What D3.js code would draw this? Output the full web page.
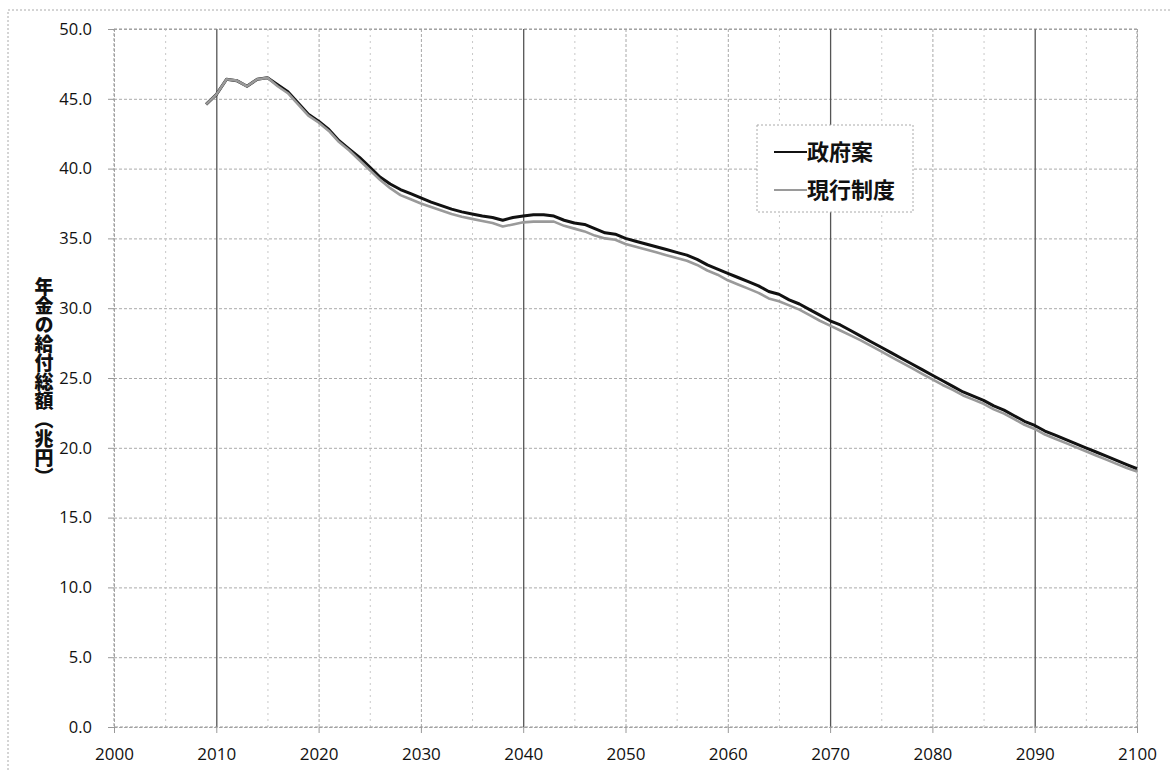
<!DOCTYPE html>
<html><head>
<meta charset="utf-8">
<title>年金の給付総額</title>
<script src="https://d3js.org/d3.v7.min.js"></script>
<style>
  body { margin: 0; background: #fff; }
  .tick-label { font-family: "Open Sans", "DejaVu Sans", sans-serif; fill: #111; }
  .jp { font-family: "Noto Sans CJK JP", sans-serif; fill: #111; }
</style>
</head>
<body>
<svg id="chart" width="1172" height="770"></svg>
<script>
  // --- data (兆円, yearly 2009-2100)
  const years = d3.range(2009, 2101);

  const govPlan = [
    44.6, 45.3, 46.4, 46.3, 45.9, 46.4, 46.5, 46.0, 45.5, 44.7,   // 2009-2018
    43.9, 43.4, 42.8, 42.0, 41.4, 40.8, 40.1, 39.4, 38.9, 38.5,   // 2019-2028
    38.2, 37.9, 37.6, 37.35, 37.1, 36.9, 36.75, 36.6, 36.5, 36.3, // 2029-2038
    36.5, 36.6, 36.7, 36.7, 36.6, 36.3, 36.1, 36.0, 35.7, 35.4,   // 2039-2048
    35.3, 35.0, 34.8, 34.6, 34.4, 34.2, 34.0, 33.8, 33.5, 33.1,   // 2049-2058
    32.8, 32.5, 32.2, 31.9, 31.6, 31.2, 31.0, 30.6, 30.3, 29.9,   // 2059-2068
    29.5, 29.1, 28.8, 28.4, 28.0, 27.6, 27.2, 26.8, 26.4, 26.0,   // 2069-2078
    25.6, 25.2, 24.8, 24.4, 24.0, 23.7, 23.4, 23.0, 22.7, 22.3,   // 2079-2088
    21.9, 21.6, 21.2, 20.9, 20.6, 20.3, 20.0, 19.7, 19.4, 19.1,   // 2089-2098
    18.8, 18.5                                                    // 2099-2100
  ];

  const currentSystem = [
    44.6, 45.3, 46.4, 46.3, 45.9, 46.4, 46.5, 45.9, 45.4, 44.6,
    43.8, 43.3, 42.7, 41.9, 41.3, 40.6, 39.9, 39.2, 38.6, 38.1,
    37.8, 37.5, 37.25, 37.0, 36.75, 36.55, 36.4, 36.25, 36.1, 35.85,
    36.0, 36.15, 36.2, 36.2, 36.2, 35.9, 35.7, 35.5, 35.2, 35.0,
    34.9, 34.6, 34.4, 34.2, 34.0, 33.8, 33.6, 33.4, 33.1, 32.7,
    32.4, 32.0, 31.7, 31.4, 31.1, 30.7, 30.5, 30.2, 29.9, 29.5,
    29.1, 28.75, 28.4, 28.05, 27.7, 27.3, 26.9, 26.5, 26.1, 25.7,
    25.3, 24.9, 24.5, 24.15, 23.75, 23.45, 23.15, 22.75, 22.45, 22.05,
    21.65, 21.35, 20.95, 20.65, 20.35, 20.05, 19.75, 19.45, 19.15, 18.85,
    18.55, 18.3
  ];

  const seriesNames = ['政府案', '現行制度'];
  const xTicks = d3.range(2000, 2101, 10);
  const xMinor = d3.range(2005, 2100, 10);
  const yTicks = d3.range(0, 50.1, 5);
  const yTitle = '年金の給付総額（兆円）';

  // --- layout
  const svg = d3.select('svg#chart');
  const plot = {left: 114, right: 1137, top: 29, bottom: 727};

  const xScale = d3.scaleLinear().domain([2000, 2100]).range([plot.left, plot.right]);
  const yScale = d3.scaleLinear().domain([0, 50]).range([plot.bottom, plot.top]);

  // outer chart frame (dotted, runs off the page on right/bottom)
  svg.append('rect')
     .attr('x', 8).attr('y', 10)
     .attr('width', 1200).attr('height', 800)
     .attr('fill', 'none')
     .attr('stroke', '#aaa')
     .attr('stroke-dasharray', '2,2');

  // horizontal gridlines
  let leftGrid = d3.axisLeft(yScale).tickValues(yTicks)
                   .tickSize(-(plot.right - plot.left)).tickFormat('');
  svg.append('g')
     .attr('class', 'grid')
     .attr('transform', `translate(${plot.left},0)`)
     .call(leftGrid)
     .call(g => g.select('.domain').remove())
     .call(g => g.selectAll('line').attr('stroke', '#aaa').attr('stroke-dasharray', '3,2'));

  // minor vertical gridlines
  svg.append('g')
     .attr('transform', `translate(0,${plot.bottom})`)
     .call(d3.axisBottom(xScale).tickValues(xMinor).tickSize(-(plot.bottom - plot.top)).tickFormat(''))
     .call(g => g.select('.domain').remove())
     .call(g => g.selectAll('line').attr('stroke', '#c8c8c8').attr('stroke-dasharray', '2,4'));

  // major vertical gridlines (some came out darker in the scan)
  const darkYears = [2010, 2040, 2070, 2090];
  svg.append('g')
     .attr('transform', `translate(0,${plot.bottom})`)
     .call(d3.axisBottom(xScale).tickValues(xTicks).tickSize(-(plot.bottom - plot.top)).tickFormat(''))
     .call(g => g.select('.domain').remove())
     .call(g => g.selectAll('line')
        .attr('stroke', d => darkYears.includes(d) ? '#555' : '#a8a8a8')
        .attr('stroke-width', d => darkYears.includes(d) ? 1.3 : 1)
        .attr('stroke-dasharray', d => darkYears.includes(d) ? null : '3,2'));

  // plot border
  svg.append('rect')
     .attr('x', plot.left).attr('y', plot.top)
     .attr('width', plot.right - plot.left).attr('height', plot.bottom - plot.top)
     .attr('fill', 'none')
     .attr('stroke', '#999')
     .attr('stroke-dasharray', '3,2');

  // axes with outward tick marks
  svg.append('g')
     .attr('transform', `translate(${plot.left},0)`)
     .call(d3.axisLeft(yScale).tickValues(yTicks).tickSize(6).tickPadding(16).tickFormat(d3.format('.1f')))
     .call(g => g.select('.domain').remove())
     .call(g => g.selectAll('line').attr('stroke', '#999'))
     .call(g => g.selectAll('text').attr('class', 'tick-label').style('font-size', '16.5px'));

  svg.append('g')
     .attr('transform', `translate(0,${plot.bottom})`)
     .call(d3.axisBottom(xScale).tickValues(xTicks).tickSize(6).tickPadding(15).tickFormat(d3.format('d')))
     .call(g => g.select('.domain').remove())
     .call(g => g.selectAll('line').attr('stroke', '#999'))
     .call(g => g.selectAll('text').attr('class', 'tick-label').style('font-size', '17px'));

  // y title, vertical writing
  svg.append('text')
     .attr('class', 'jp')
     .attr('x', 44).attr('y', 382)
     .attr('text-anchor', 'middle')
     .style('writing-mode', 'vertical-rl')
     .style('font-size', '19px')
     .style('font-weight', '900')
     .text(yTitle);

  // lines: black first, gray on top
  const lineGen = d3.line()
                    .x((d, i) => xScale(years[i]))
                    .y(d => yScale(d));

  const colors = ['#111', '#9a9a9a'];
  const widths = [3, 2.6];
  [govPlan, currentSystem].forEach((series, k) => {
    svg.append('path')
       .datum(series)
       .attr('d', lineGen)
       .attr('fill', 'none')
       .attr('stroke', colors[k])
       .attr('stroke-width', widths[k])
       .attr('stroke-linejoin', 'round');
  });

  // legend
  const legend = svg.append('g').attr('transform', 'translate(757,125)');
  legend.append('rect')
        .attr('width', 156).attr('height', 87)
        .attr('fill', '#fff')
        .attr('stroke', '#aaa')
        .attr('stroke-dasharray', '2,2');

  seriesNames.forEach((name, k) => {
    const ly = 27 + k * 38;
    legend.append('line')
          .attr('x1', 17).attr('x2', 50)
          .attr('y1', ly).attr('y2', ly)
          .attr('stroke', colors[k])
          .attr('stroke-width', 2.2);
    legend.append('text')
          .attr('class', 'jp')
          .attr('x', 50).attr('y', ly)
          .attr('dy', '0.36em')
          .style('font-size', '22px')
          .style('font-weight', 'bold')
          .text(name);
  });
</script>
</body>
</html>
